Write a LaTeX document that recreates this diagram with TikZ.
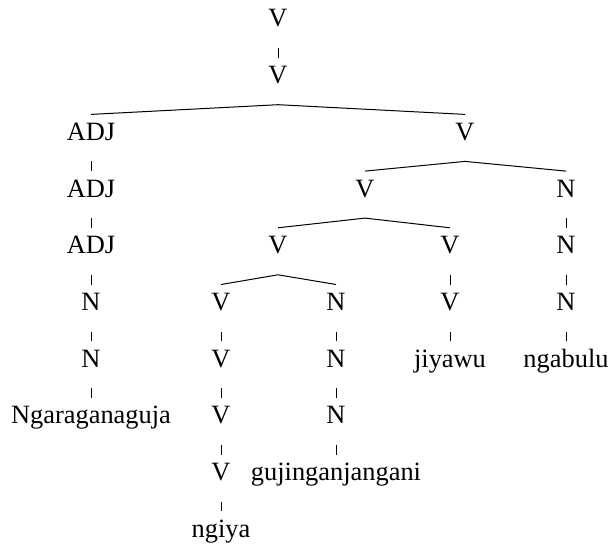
\documentclass[tikz,border=0pt]{standalone}
\usepackage{fontspec}
\setmainfont{Liberation Serif}
\usetikzlibrary{calc}
\newcommand\treeedge[2]{\draw[edge] ($(#1.base)+(0,21)$) -- ($(#2.base)+(0,-26)$);}
\begin{document}
\begin{tikzpicture}[x=0.5pt,y=-0.5pt,
  lbl/.style={anchor=base,inner sep=0pt,font=\fontsize{13.2}{16}\selectfont},
  edge/.style={line width=0.5pt,draw=black}]
\useasboundingbox (0,0) rectangle (608,545);
% rows (baselines)
\def\ra{27}\def\rb{83.7}\def\rc{140.4}\def\rd{197.1}\def\re{253.8}
\def\rf{310.5}\def\rg{367.2}\def\rh{423.9}\def\ri{480.6}\def\rj{537.3}
% top
\node[lbl] (t0) at (278,\ra) {V};
\node[lbl] (t1) at (278,\rb) {V};
% ADJ column
\node[lbl] (a2) at (91,\rc) {ADJ};
\node[lbl] (a3) at (91,\rd) {ADJ};
\node[lbl] (a4) at (91,\re) {ADJ};
\node[lbl] (a5) at (91,\rf) {N};
\node[lbl] (a6) at (91,\rg) {N};
\node[lbl] (a7) at (91,\rh) {Ngaraganaguja};
% right V
\node[lbl] (v2) at (465,\rc) {V};
\node[lbl] (v3) at (365,\rd) {V};
\node[lbl] (v4) at (278,\re) {V};
% ngiya column
\node[lbl] (g5) at (221,\rf) {V};
\node[lbl] (g6) at (221,\rg) {V};
\node[lbl] (g7) at (221,\rh) {V};
\node[lbl] (g8) at (221,\ri) {V};
\node[lbl] (g9) at (221,\rj) {ngiya};
% gujinganjangani column
\node[lbl] (u5) at (336,\rf) {N};
\node[lbl] (u6) at (336,\rg) {N};
\node[lbl] (u7) at (336,\rh) {N};
\node[lbl] (u8) at (336,\ri) {gujinganjangani};
% jiyawu column
\node[lbl] (j4) at (450,\re) {V};
\node[lbl] (j5) at (450,\rf) {V};
\node[lbl] (j6) at (450,\rg) {jiyawu};
% ngabulu column
\node[lbl] (b3) at (566,\rd) {N};
\node[lbl] (b4) at (566,\re) {N};
\node[lbl] (b5) at (566,\rf) {N};
\node[lbl] (b6) at (566,\rg) {ngabulu};
% edges
\treeedge{t0}{t1}
\treeedge{t1}{a2}\treeedge{t1}{v2}
\treeedge{a2}{a3}\treeedge{a3}{a4}\treeedge{a4}{a5}\treeedge{a5}{a6}\treeedge{a6}{a7}
\treeedge{v2}{v3}\treeedge{v2}{b3}
\treeedge{v3}{v4}\treeedge{v3}{j4}
\treeedge{v4}{g5}\treeedge{v4}{u5}
\treeedge{g5}{g6}\treeedge{g6}{g7}\treeedge{g7}{g8}\treeedge{g8}{g9}
\treeedge{u5}{u6}\treeedge{u6}{u7}\treeedge{u7}{u8}
\treeedge{j4}{j5}\treeedge{j5}{j6}
\treeedge{b3}{b4}\treeedge{b4}{b5}\treeedge{b5}{b6}
\end{tikzpicture}
\end{document}
